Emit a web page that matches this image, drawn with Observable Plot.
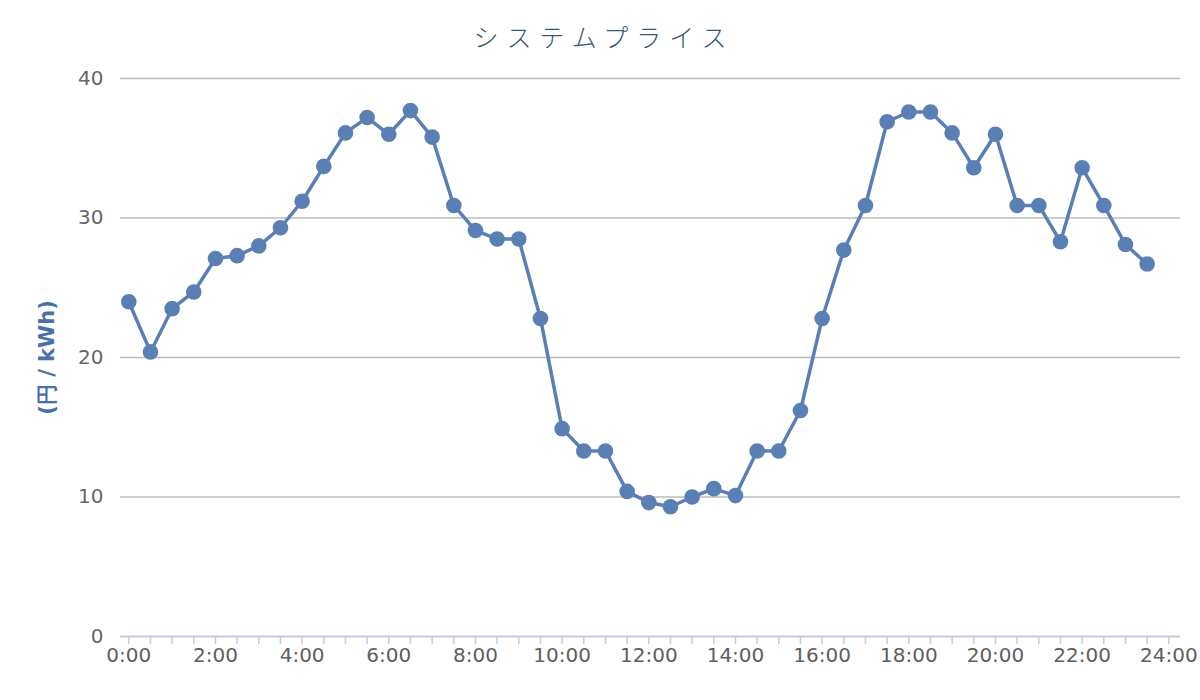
<!DOCTYPE html>
<html>
<head>
<meta charset="utf-8">
<script src="https://cdn.jsdelivr.net/npm/d3@7"></script>
<script src="https://cdn.jsdelivr.net/npm/@observablehq/plot@0.6"></script>
<style>
  body { margin: 0; background: #fff; }
  #title {
    height: 50px; box-sizing: border-box; padding-top: 24px; padding-left: 8px;
    text-align: center; font-family: "Noto Sans CJK JP", sans-serif; font-weight: 300;
    font-size: 25px; line-height: 1; letter-spacing: 8px; color: #3a5776;
  }
</style>
</head>
<body>
<div id="title"></div>
<div id="chart"></div>
<script>
const titleText = "システムプライス";
const yLabel = "(円 / kWh)";
const times = [
  "0:00","0:30","1:00","1:30","2:00","2:30","3:00","3:30","4:00","4:30","5:00","5:30",
  "6:00","6:30","7:00","7:30","8:00","8:30","9:00","9:30","10:00","10:30","11:00","11:30",
  "12:00","12:30","13:00","13:30","14:00","14:30","15:00","15:30","16:00","16:30","17:00","17:30",
  "18:00","18:30","19:00","19:30","20:00","20:30","21:00","21:30","22:00","22:30","23:00","23:30"
];
const prices = [
  24.0, 20.4, 23.5, 24.7, 27.1, 27.3, 28.0, 29.3, 31.2, 33.7, 36.1, 37.2,
  36.0, 37.7, 35.8, 30.9, 29.1, 28.5, 28.5, 22.8, 14.9, 13.3, 13.3, 10.4,
  9.6, 9.3, 10.0, 10.6, 10.1, 13.3, 13.3, 16.2, 22.8, 27.7, 30.9, 36.9,
  37.6, 37.6, 36.1, 33.6, 36.0, 30.9, 30.9, 28.3, 33.6, 30.9, 28.1, 26.7
];
const yTicks = [0, 10, 20, 30, 40];
const xTickStep = 0.5;
const xLabelStep = 2;

const toHours = s => { const [h, m] = s.split(":").map(Number); return h + m / 60; };
const data = times.map((t, i) => ({hour: toHours(t), price: prices[i]}));

document.getElementById("title").textContent = titleText;

const color = "#5a7fb4";
const chart = Plot.plot({
  width: 1200,
  height: 650,
  marginLeft: 120,
  marginRight: 20,
  marginTop: 28,
  marginBottom: 64,
  insetLeft: 8.3,
  insetRight: 11.7,
  style: {fontFamily: "DejaVu Sans, sans-serif", background: "#fff", overflow: "visible"},
  x: {domain: [0, 24]},
  y: {domain: [0, 40]},
  marks: [
    Plot.ruleY(yTicks.filter(d => d > 0), {stroke: "#bcbcbc", strokeWidth: 1.5}),
    Plot.ruleY([0], {stroke: "#c3cddb", strokeWidth: 2}),
    Plot.axisY({ticks: yTicks, tickSize: 0, tickPadding: 17, fontSize: 20, fill: "#666", label: null}),
    Plot.axisX({
      ticks: d3.range(0, 24 + xTickStep / 2, xTickStep),
      tickSize: 8, tickPadding: 3, stroke: "#c3cddb", strokeWidth: 1.5,
      fontSize: 20, fill: "#5e5e5e", label: null,
      tickFormat: d => (Math.abs(d % xLabelStep) < 1e-9 ? `${d}:00` : "")
    }),
    Plot.text([yLabel], {frameAnchor: "left", textAnchor: "middle", rotate: -90, dx: -73, text: d => d,
      fontSize: 21, fontWeight: "bold", fill: "#4a71a6"}),
    Plot.line(data, {x: "hour", y: "price", stroke: color, strokeWidth: 3.5}),
    Plot.dot(data, {x: "hour", y: "price", r: 7.8, fill: color, stroke: "none"})
  ]
});
document.getElementById("chart").appendChild(chart);
</script>
</body>
</html>
